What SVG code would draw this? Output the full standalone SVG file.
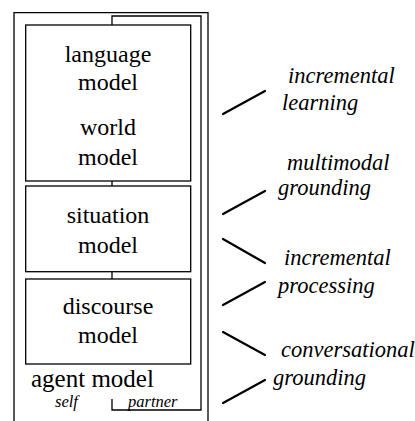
<svg xmlns="http://www.w3.org/2000/svg" width="415" height="421" viewBox="0 0 415 421">
<style>
.box{fill:none;stroke:#000;stroke-width:1.3}
.ln{fill:none;stroke:#000;stroke-width:1.3}
.sl{stroke:#000;stroke-width:2.2;stroke-linecap:round}
svg g text.t{font-family:'Liberation Serif',serif !important;font-size:24px;text-anchor:middle;fill:#000}
svg g text.a{font-family:'Liberation Serif',serif !important;font-size:25px;fill:#000}
svg g text.s{font-family:'Liberation Serif',serif !important;font-style:italic;font-size:16.5px;fill:#000}
svg g text.i{font-family:'Liberation Serif',serif !important;font-style:italic;font-size:22.5px;fill:#000}
</style>
<rect width="415" height="421" fill="#fff"/>
<g id="agent-model">
<path class="ln" d="M14,425 V12.7 H208 V425"/>
<path class="ln" d="M112,25 V16 H201 V410 H112 V399"/>
<text class="a" style="font-family:'Liberation Serif',serif !important" x="31" y="387">agent model</text>
<text class="s" style="font-family:'Liberation Serif',serif !important" x="55" y="407">self</text>
<text class="s" style="font-family:'Liberation Serif',serif !important" x="128" y="407">partner</text>
</g>
<g id="language-world">
<rect class="box" x="25.7" y="25" width="165" height="156"/>
<text class="t" style="font-family:'Liberation Serif',serif !important" x="108" y="61.5">language</text>
<text class="t" style="font-family:'Liberation Serif',serif !important" x="108" y="90">model</text>
<text class="t" style="font-family:'Liberation Serif',serif !important" x="108" y="135">world</text>
<text class="t" style="font-family:'Liberation Serif',serif !important" x="108" y="165">model</text>
</g>
<g id="situation">
<rect class="box" x="25.7" y="186" width="165" height="85.7"/>
<text class="t" style="font-family:'Liberation Serif',serif !important" x="108" y="223">situation</text>
<text class="t" style="font-family:'Liberation Serif',serif !important" x="108" y="253">model</text>
</g>
<g id="discourse">
<rect class="box" x="25.7" y="279" width="165" height="85"/>
<text class="t" style="font-family:'Liberation Serif',serif !important" x="108" y="314">discourse</text>
<text class="t" style="font-family:'Liberation Serif',serif !important" x="108" y="343">model</text>
</g>
<g id="connectors">
<line class="ln" x1="112" y1="181" x2="112" y2="186"/>
<line class="ln" x1="112" y1="271.7" x2="112" y2="279"/>
<line class="sl" x1="223" y1="114" x2="265" y2="91"/>
<line class="sl" x1="223" y1="214" x2="265" y2="191"/>
<line class="sl" x1="223" y1="239" x2="265" y2="263"/>
<line class="sl" x1="223" y1="305" x2="265" y2="282"/>
<line class="sl" x1="223" y1="332" x2="265" y2="355"/>
<line class="sl" x1="223" y1="403" x2="265" y2="380"/>
</g>
<g id="labels">
<text class="i" style="font-family:'Liberation Serif',serif !important" x="288" y="83">incremental</text>
<text class="i" style="font-family:'Liberation Serif',serif !important" x="282" y="110">learning</text>
<text class="i" style="font-family:'Liberation Serif',serif !important" x="287" y="170">multimodal</text>
<text class="i" style="font-family:'Liberation Serif',serif !important" x="278" y="195">grounding</text>
<text class="i" style="font-family:'Liberation Serif',serif !important" x="284" y="265">incremental</text>
<text class="i" style="font-family:'Liberation Serif',serif !important" x="278" y="293">processing</text>
<text class="i" style="font-family:'Liberation Serif',serif !important" x="281" y="357">conversational</text>
<text class="i" style="font-family:'Liberation Serif',serif !important" x="273" y="385">grounding</text>
</g>
</svg>
